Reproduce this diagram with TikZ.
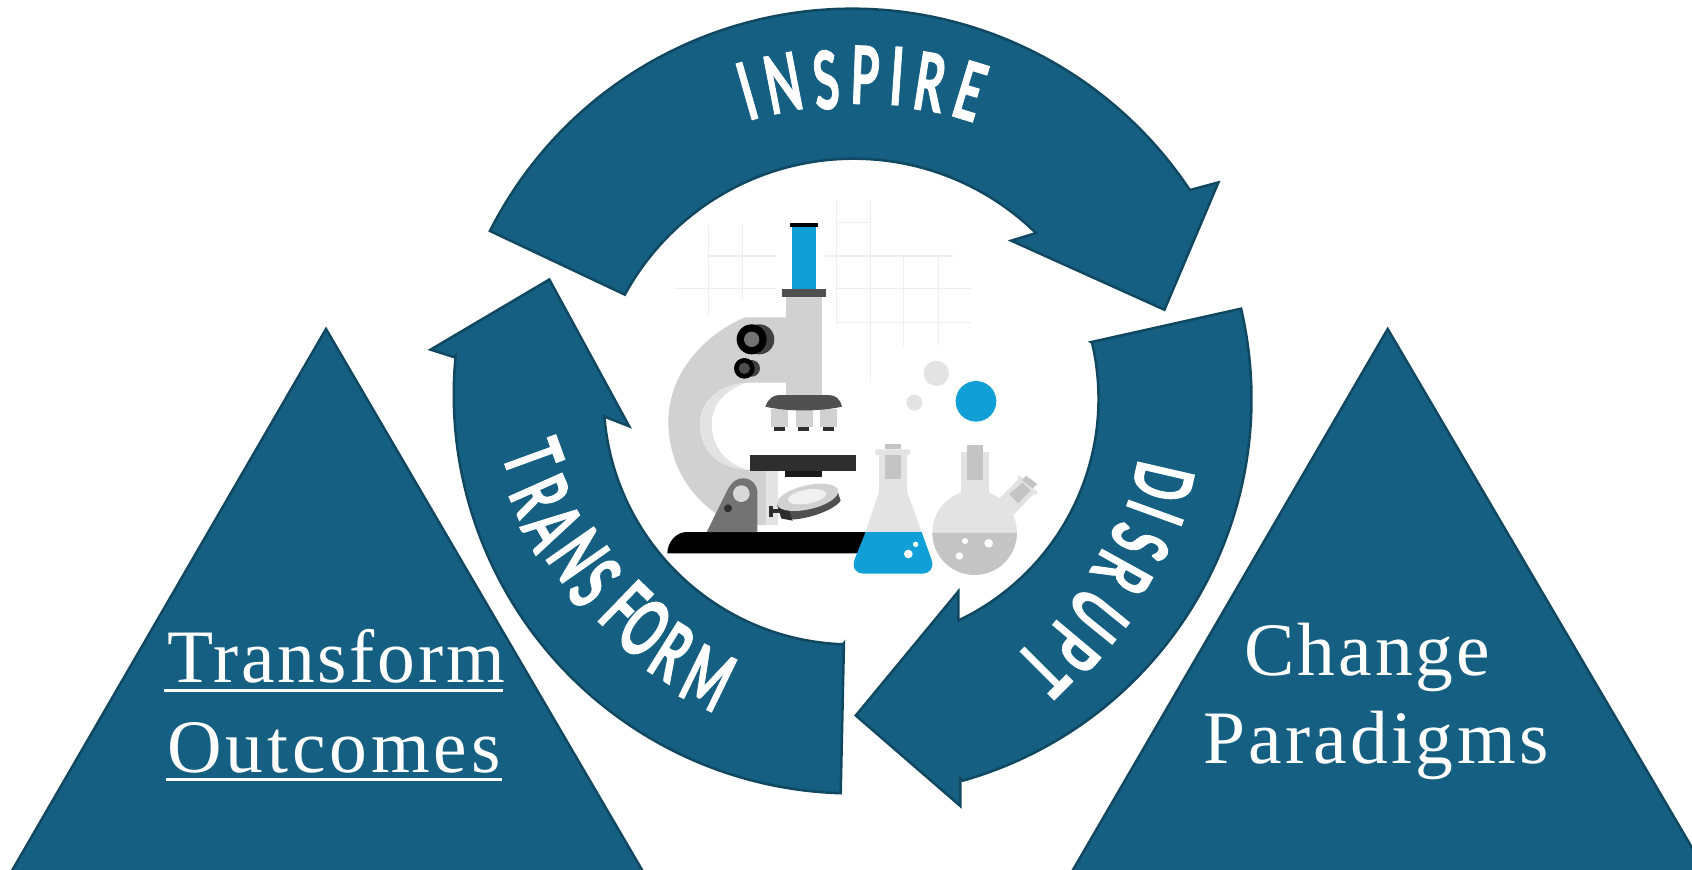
\documentclass[tikz,border=0pt]{standalone}
\usepackage{fontspec}
\setmainfont{Liberation Serif}
\newfontfamily\handfont[BoldFeatures={FakeBold=1.6}]{Lato}
\definecolor{acc}{HTML}{156082}
\definecolor{accd}{HTML}{104862}
\definecolor{sky}{HTML}{119FD8}
\definecolor{lg}{HTML}{D1D1D1}
\definecolor{vl}{HTML}{E3E3E3}
\definecolor{mg}{HTML}{C4C4C4}
\definecolor{dg}{HTML}{505050}
\definecolor{ink}{HTML}{2E2E2E}
\definecolor{gridc}{HTML}{EEEEEE}
\tikzset{
  shapeblue/.style={fill=acc,draw=accd,line width=2.5pt,line join=miter},
  gridline/.style={draw=gridc,line width=1.2pt},
  hand/.style={text=white,inner sep=0pt,font=\handfont\bfseries\fontsize{80}{80}\selectfont,xscale=.58},
  serif/.style={text=white,inner sep=0pt,anchor=base west,font=\fontsize{75.5}{76}\selectfont},
  ul/.style={draw=white,line width=3pt}
}
\begin{document}
\begin{tikzpicture}[x=1pt,y=-1pt]
\useasboundingbox (0,0) rectangle (1692,870);
\clip (0,0) rectangle (1692,870);
% triangles
\draw[shapeblue] (326,329) -- (645,875) -- (9.5,875) -- cycle;
\draw[shapeblue] (1387.7,329) -- (1708,875) -- (1070,875) -- cycle;
% microscope
\begin{scope}[shift={(640,180)},x=1pt/3,y=-1pt/3]
  \foreach \x/\a/\b in {206/135/408,308/135/362,590/60/435,692/60/605,791/228/497,896/228/495}
    \draw[gridline] (\x,\a) -- (\x,\b);
  \foreach \y/\a/\b in {228/206/408,326/106/408,127/590/692,228/555/938,325/590/997,428/590/997}
    \draw[gridline] (\a,\y) -- (\b,\y);
  \fill[lg] (438,351) rectangle (546,650);
  \fill[lg] (438,412) -- (315,412) .. controls (180,470) and (85,590) .. (85,725)
     .. controls (85,850) and (150,950) .. (235,1005) -- (355,1035) -- (378,1035) -- (378,870) -- (335,870)
     .. controls (230,868) and (180,810) .. (180,730)
     .. controls (180,670) and (230,615) .. (320,608) -- (438,608) -- cycle;
  \fill[vl] (320,608) .. controls (230,615) and (180,670) .. (180,730)
     .. controls (180,810) and (230,868) .. (335,870)
     .. controls (260,860) and (215,800) .. (215,730)
     .. controls (215,680) and (250,630) .. (320,608) -- cycle;
  \fill[vl] (378,873) rectangle (414,1036);
  \fill[dg!80!black] (358,478) circle[radius=45];
  \fill[black] (335,478) circle[radius=45];
  \fill[black!55] (335,478) circle[radius=23];
  \fill[dg!80!black] (335,565) circle[radius=25];
  \fill[black] (313,565) circle[radius=31];
  \fill[ink!85] (313,565) circle[radius=17];
  \fill[sky] (456,140) rectangle (528,327);
  \fill[black] (450,129) rectangle (534,141);
  \fill[dg] (426,327) rectangle (558,351);
  \fill[lg] (393,686) rectangle (443,741);
  \fill[lg] (468,686) rectangle (518,741);
  \fill[lg] (540,686) rectangle (590,741);
  \fill[ink] (402,741) rectangle (435,753);
  \fill[ink] (474,741) rectangle (507,753);
  \fill[ink] (549,741) rectangle (582,753);
  \fill[dg] (376,680) .. controls (385,655) and (400,645) .. (420,645) -- (565,645)
     .. controls (585,645) and (600,655) .. (606,680) .. controls (540,695) and (440,695) .. (376,680) -- cycle;
  \fill[ink] (330,825) rectangle (648,873);
  \fill[black!90] (435,873) rectangle (546,891);
  \fill[black] (82,1120) .. controls (82,1085) and (110,1056) .. (140,1056) -- (680,1056) -- (660,1120) -- cycle;
  \fill[black!55] (200,1056) -- (265,925) .. controls (280,900) and (295,895) .. (310,895)
     .. controls (335,895) and (352,915) .. (352,935) -- (352,1056) -- cycle;
  \fill[lg!85!white] (304,941) circle[radius=25];
  \fill[ink] (264,985) circle[radius=12];
  \fill[ink] (388,978) rectangle (398,1010);
  \fill[ink] (398,988) rectangle (425,1000);
  % mirror
  \fill[dg] (412,975) -- (424,1015) .. controls (470,1030) and (580,995) .. (602,962) -- (590,925) -- cycle;
  \fill[ink] (412,975) -- (424,1015) -- (458,1022) -- (445,985) -- cycle;
  \fill[lg] (503,952) ellipse[x radius=94,y radius=36,rotate=13];
  \fill[white!94!black] (501,950) ellipse[x radius=58,y radius=21,rotate=10];
  % bubbles
  \fill[vl] (889,580) circle[radius=38];
  \fill[vl] (823,668) circle[radius=24];
  \fill[sky] (1008,664) circle[radius=61];
  % conical flask
  \fill[vl,rounded corners=1pt] (717,820) -- (717,935) -- (677,1056) -- (845,1056) -- (801,935) -- (801,820) -- cycle;
  \fill[vl,rounded corners=2pt] (705,808) rectangle (811,825);
  \fill[mg] (735,825) rectangle (783,897);
  \fill[mg] (735,792) rectangle (783,808);
  \fill[sky] (677,1056) -- (645,1135) .. controls (633,1165) and (650,1181) .. (670,1181) -- (845,1181)
     .. controls (870,1181) and (882,1165) .. (875,1140) -- (845,1056) -- cycle;
  \fill[white] (805,1122) circle[radius=13];
  \fill[white] (827,1093) circle[radius=8];
  % round flask
  \fill[vl] (1075,958) -- (1140,893) -- (1185,938) -- (1120,1005) -- cycle;
  \draw[vl,line width=3.5pt] (1135,890) -- (1190,942);
  \fill[mg] (1108,942) -- (1148,908) -- (1172,932) -- (1134,970) -- cycle;
  \fill[mg] (1158,887) -- (1192,912) -- (1178,925) -- (1146,900) -- cycle;
  \fill[vl] (877,1058) arc[start angle=180,end angle=360,radius=127] -- cycle;
  \fill[mg] (877,1058) arc[start angle=180,end angle=0,radius=127] -- cycle;
  \fill[vl] (962,815) rectangle (1047,960);
  \fill[mg] (981,795) rectangle (1029,900);
  \fill[white] (975,1083) circle[radius=9];
  \fill[white] (1046,1090) circle[radius=13];
  \fill[white] (958,1128) circle[radius=11];
\end{scope}
% circular arrows
\begin{scope}[scale=1.0792]
  \draw[shapeblue] (454,214) arc[start angle=206.9,end angle=326.4,radius=376] -- (1103,176)
     -- (1129,169) -- (1079,287) -- (937,223) -- (960,216)
     arc[start angle=314.4,end angle=208.6,radius=241.5] -- (579,273) -- cycle;
  \draw[shapeblue] (1150,286) arc[start angle=-13.1,end angle=74.1,radius=368] -- (890,721)
     -- (890,747) -- (793,663) -- (888,548) -- (888,575)
     arc[start angle=64.6,end angle=-13.2,radius=227.5] -- (1011,317) -- cycle;
  \draw[shapeblue] (779,735) arc[start angle=91.7,end angle=185.6,radius=369.5] -- (421,331)
     -- (399,324) -- (509,259) -- (583,395) -- (560,386)
     arc[start angle=175.3,end angle=92,radius=230] -- (782,596) -- cycle;
\end{scope}
% arrow lettering
\node[rotate=16,hand] (i1) at (747,91) {I};
\node[rotate=11,hand] (i2) at (783,83) {N};
\node[rotate=6,hand] (i3) at (826,80) {S};
\node[rotate=-2,hand] (i4) at (865,75) {P};
\node[rotate=-4,hand] (i5) at (897,76) {I};
\node[rotate=-9,hand] (i6) at (930,82) {R};
\node[rotate=-17,hand] (i7) at (970,91) {E};
\node[rotate=-70,hand] (t1) at (533,457) {T};
\node[rotate=-66,hand] (t2) at (540,495) {R};
\node[rotate=-60,hand] (t3) at (553,527) {A};
\node[rotate=-55,hand] (t4) at (578,555) {N};
\node[rotate=-48,hand] (t5) at (595,583) {S};
\node[rotate=-44,hand] (t6) at (625,607) {F};
\node[rotate=-38,hand] (t7) at (645,628) {O};
\node[rotate=-32,hand] (t8) at (672,652) {R};
\node[rotate=-26,hand] (t9) at (708,678) {M};
\node[rotate=-103,hand] (d1) at (1163,482) {D};
\node[rotate=-110,hand] (d2) at (1155,513) {I};
\node[rotate=-113,hand] (d3) at (1140,542) {S};
\node[rotate=-119,hand] (d4) at (1122,573) {R};
\node[rotate=-129,hand] (d5) at (1098,615) {U};
\node[rotate=-130,hand] (d6) at (1072,647) {P};
\node[rotate=-135,hand] (d7) at (1043,670) {T};
% triangle text
\node[serif] (tr) at (167,682.7) {\addfontfeature{LetterSpace=3.6}Transform};
\node[serif] (ou) at (167,772) {\addfontfeature{LetterSpace=5.2}Outcomes};
\node[serif] (ch) at (1244,675) {\addfontfeature{LetterSpace=4.1}Change};
\node[serif] (pa) at (1203,763) {\addfontfeature{LetterSpace=4.4}Paradigms};
\coordinate (u1a) at (164,690); \coordinate (u1b) at (503,690);
\coordinate (u2a) at (166,779); \coordinate (u2b) at (502,779);
\draw[ul] (u1a) -- (u1b);
\draw[ul] (u2a) -- (u2b);
\end{tikzpicture}
\end{document}
